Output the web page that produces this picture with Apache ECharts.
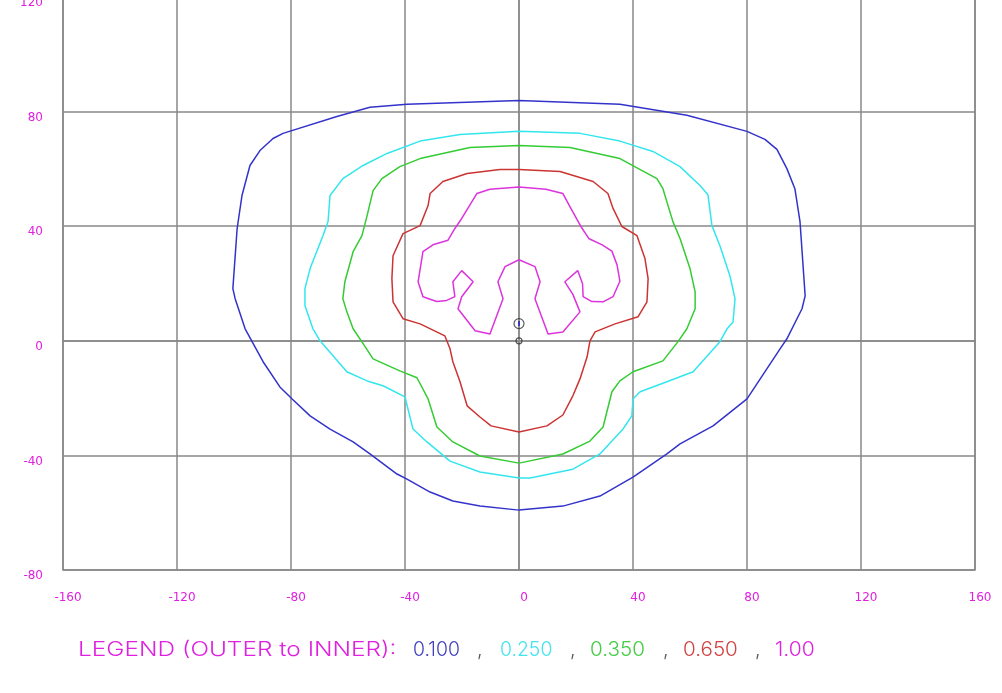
<!DOCTYPE html>
<html>
<head>
<meta charset="utf-8">
<script src="https://cdn.jsdelivr.net/npm/echarts@6/dist/echarts.min.js"></script>
<style>
  html, body { margin: 0; padding: 0; background: #fff; }
  #chart { width: 1002px; height: 693px; }
</style>
</head>
<body>
<div id="chart"></div>
<script>
// contour levels, outer to inner
var levels = ['0.100', '0.250', '0.350', '0.650', '1.00'];

// each contour is a closed polyline of [x, y] points
var contour010 = [
  [0, 83.9], [35.4, 82.6], [58.9, 78.7], [80, 73.1], [86.3, 70.3], [90.5, 66.8], [94, 60.1],
  [96.8, 53.1], [98.6, 41.6], [100.4, 15.7], [99.3, 11.2], [94, 0.7], [91.6, -2.8], [80, -20.3],
  [68.1, -29.7], [56.5, -36], [51.9, -39.5], [40, -47.6], [28.4, -54.2], [15.4, -57.7], [0, -59.1],
  [-13.7, -57.7], [-23.2, -55.9], [-31.2, -52.8], [-39.3, -48.3], [-42.8, -46.5], [-52.3, -39.5],
  [-58.2, -35.3], [-66.3, -30.8], [-73.3, -26.2], [-79.6, -20.3], [-83.9, -16.1], [-89.8, -7.3],
  [-96.1, 4.2], [-99.6, 14.7], [-100.4, 18.2], [-98.9, 39.2], [-97.2, 50.7], [-94.4, 61.2],
  [-90.9, 66.4], [-86.3, 70.6], [-82.8, 72.4], [-63.9, 78.3], [-52.3, 81.5], [-39.3, 82.6], [0, 83.9]
];
var contour025 = [
  [0, 73.1], [21.4, 72.4], [35.4, 69.7], [47, 66.1], [56.5, 60.8], [63.5, 54.2], [66.3, 51],
  [67.7, 40.2], [70.5, 33.2], [74, 22.7], [75.8, 14.7], [75.1, 6.6], [73, 4.2], [70.5, -0.3],
  [61.1, -10.8], [51.9, -14.3], [42.5, -17.8], [40, -20.3], [39.6, -26.2], [36.5, -30.8],
  [28.4, -39.5], [18.9, -44.8], [3.9, -47.9], [0, -47.9], [-13.7, -45.8], [-24.2, -42],
  [-32.3, -35.3], [-37.2, -30.8], [-40, -19.6], [-47.7, -15.7], [-53.3, -14], [-60.4, -10.8],
  [-69.8, 0], [-72.3, 4.2], [-75.1, 12.2], [-75.1, 18.2], [-73.3, 25.2], [-68.8, 36.7],
  [-67, 41.6], [-66.3, 50.7], [-61.8, 56.6], [-54.7, 61.2], [-46.3, 65.4], [-34.7, 69.7],
  [-20.7, 72], [0, 73.1]
];
var contour035 = [
  [0, 68.2], [17.9, 67.5], [35.4, 63.6], [48.4, 56.6], [50.5, 53.1], [54, 41.6], [56.5, 35.7],
  [60, 25.2], [61.8, 17.1], [61.8, 11.2], [58.9, 4.2], [55.8, -0.3], [50.5, -7], [40, -10.8],
  [35.4, -14], [32.6, -17.8], [29.5, -30.1], [24.9, -35], [15.4, -39.5], [0, -42.7],
  [-13.7, -40.2], [-23.2, -35.3], [-28.8, -30.1], [-31.9, -20.3], [-35.8, -12.9], [-41.8, -10.5],
  [-51.2, -6.3], [-54.7, -1], [-58.2, 4.2], [-60.4, 10.1], [-61.8, 14.7], [-61.1, 20.6],
  [-58.2, 31.1], [-55.1, 36.7], [-53.3, 43.7], [-51.2, 52.4], [-48.1, 56.6], [-41.8, 60.8],
  [-34.7, 63.6], [-17.2, 67.5], [0, 68.2]
];
var contour065 = [
  [0, 59.8], [14.4, 59.1], [26, 55.6], [31.2, 51.4], [33, 46.2], [36.1, 39.9], [41.4, 36.7],
  [44.2, 28.7], [45.3, 21.7], [44.9, 13.6], [41.8, 8.4], [33.7, 5.9], [26.7, 3.1], [24.9, 0],
  [23.9, -5.6], [21.4, -13.3], [18.9, -19.2], [15.4, -25.9], [9.8, -29.7], [0, -31.8],
  [-9.8, -29.7], [-13.7, -26.6], [-18.2, -22.7], [-20.7, -14.3], [-23.2, -7.3], [-24.2, -2.8],
  [-26, 1.7], [-34.7, 5.9], [-40.7, 7.7], [-44.2, 13.6], [-44.6, 21.7], [-44.2, 29.7],
  [-40.7, 37.4], [-34.7, 40.2], [-31.9, 47.2], [-31.2, 51.4], [-26.7, 55.6], [-18.2, 58.4],
  [-6.7, 59.8], [0, 59.8]
];
var contour100 = [
  [0, 53.7], [9.4, 52.9], [15.4, 51.4], [18.2, 46.2], [21.7, 39.9], [24.6, 35.6], [29.2, 33.5],
  [32.6, 31.3], [34.4, 26.5], [35.4, 20.8], [33, 15.4], [29.5, 13.6], [25.6, 13.7], [22.5, 15.4],
  [22.3, 19.9], [20.6, 24.5], [16.1, 20.6], [18.9, 16.2], [21.4, 10.1], [15.4, 3.1],
  [10.2, 2.4], [5.6, 14.7], [7.4, 20.6], [5.6, 25.9], [0, 28.3], [-4.9, 25.9],
  [-7.4, 20.6], [-5.6, 14.7], [-10.2, 2.4], [-15.4, 3.5], [-21.4, 11.2], [-20.1, 15.4], [-16.1, 20.6],
  [-20.1, 24.5], [-23.2, 20.6], [-22.5, 15.4], [-25.4, 14.1], [-28.9, 13.7], [-33.7, 15.4],
  [-35.4, 20.6], [-33.7, 31.1], [-30.2, 33.5], [-24.9, 35.1], [-22.5, 39.2],
  [-20.1, 42.7], [-14.8, 51.4], [-10.2, 52.9], [0, 53.7]
];
var contours = [contour010, contour025, contour035, contour065, contour100];

// source marks near the origin
var sourcePoint = [[0, 6]];
var originPoint = [[0, 0]];

var lineColors = ['#3333cc', '#33e6ee', '#33cc33', '#cc3333', '#dd33dd'];
var labelColor = '#e020e0';

var chart = echarts.init(document.getElementById('chart'));

var series = contours.map(function (c, i) {
  return {
    name: levels[i],
    type: 'line',
    data: c,
    showSymbol: false,
    smooth: false,
    lineStyle: { color: lineColors[i], width: 1.5 },
    z: 3
  };
});
series.push({
  type: 'scatter',
  data: sourcePoint,
  symbol: 'circle',
  symbolSize: 10,
  itemStyle: { color: 'rgba(0,0,0,0)', borderColor: '#333', borderWidth: 1.2 },
  z: 4
});
series.push({
  type: 'scatter',
  data: sourcePoint,
  symbol: 'rect',
  symbolSize: [2, 5],
  itemStyle: { color: '#2222cc' },
  z: 5
});
series.push({
  type: 'scatter',
  data: originPoint,
  symbol: 'circle',
  symbolSize: 6,
  itemStyle: { color: 'rgba(0,0,0,0)', borderColor: '#333', borderWidth: 1.2 },
  z: 4
});

// legend line under the plot (wide thin lettering in the original)
var legendParts = [
  { text: 'LEGEND (OUTER to INNER):', x: 78, color: labelColor, sx: 1.22 },
  { text: levels[0], x: 413, color: '#4040c0', sx: 0.97 },
  { text: ',', x: 477, color: '#555', sx: 1 },
  { text: levels[1], x: 500, color: '#44e4ee', sx: 0.97 },
  { text: ',', x: 570, color: '#555', sx: 1 },
  { text: levels[2], x: 590, color: '#44cc44', sx: 1.03 },
  { text: ',', x: 663, color: '#555', sx: 1 },
  { text: levels[3], x: 683, color: '#d04444', sx: 1.03 },
  { text: ',', x: 755, color: '#555', sx: 1 },
  { text: levels[4], x: 775, color: labelColor, sx: 1.05 }
];

var option = {
  backgroundColor: '#fff',
  animation: false,
  grid: {
    left: 63, right: 27, top: -3, bottom: 123,
    outerBoundsMode: 'none',
    show: true, borderColor: '#888', borderWidth: 1.5
  },
  xAxis: {
    type: 'value', min: -160, max: 160, interval: 40,
    axisLine: { show: true, lineStyle: { color: '#888', width: 1.5 } },
    axisTick: { show: false },
    splitLine: { show: true, lineStyle: { color: '#888', width: 1.5 } },
    axisLabel: {
      color: labelColor, fontSize: 12, fontFamily: 'DejaVu Sans',
      margin: 22, padding: [0, 0, 0, 10]
    }
  },
  yAxis: {
    type: 'value', min: -80, max: 120, interval: 40,
    axisLine: { show: true, lineStyle: { color: '#888', width: 1.5 } },
    axisTick: { show: false },
    splitLine: { show: true, lineStyle: { color: '#888', width: 1.5 } },
    axisLabel: {
      color: labelColor, fontSize: 12, fontFamily: 'DejaVu Sans',
      margin: 20, verticalAlign: 'top', showMaxLabel: true, showMinLabel: true
    }
  },
  graphic: legendParts.map(function (p) {
    return {
      type: 'text', x: p.x, y: 640, scaleX: p.sx,
      style: { text: p.text, fill: p.color, font: '300 20px Inter' }
    };
  }),
  series: series
};
chart.setOption(option);
</script>
</body>
</html>
